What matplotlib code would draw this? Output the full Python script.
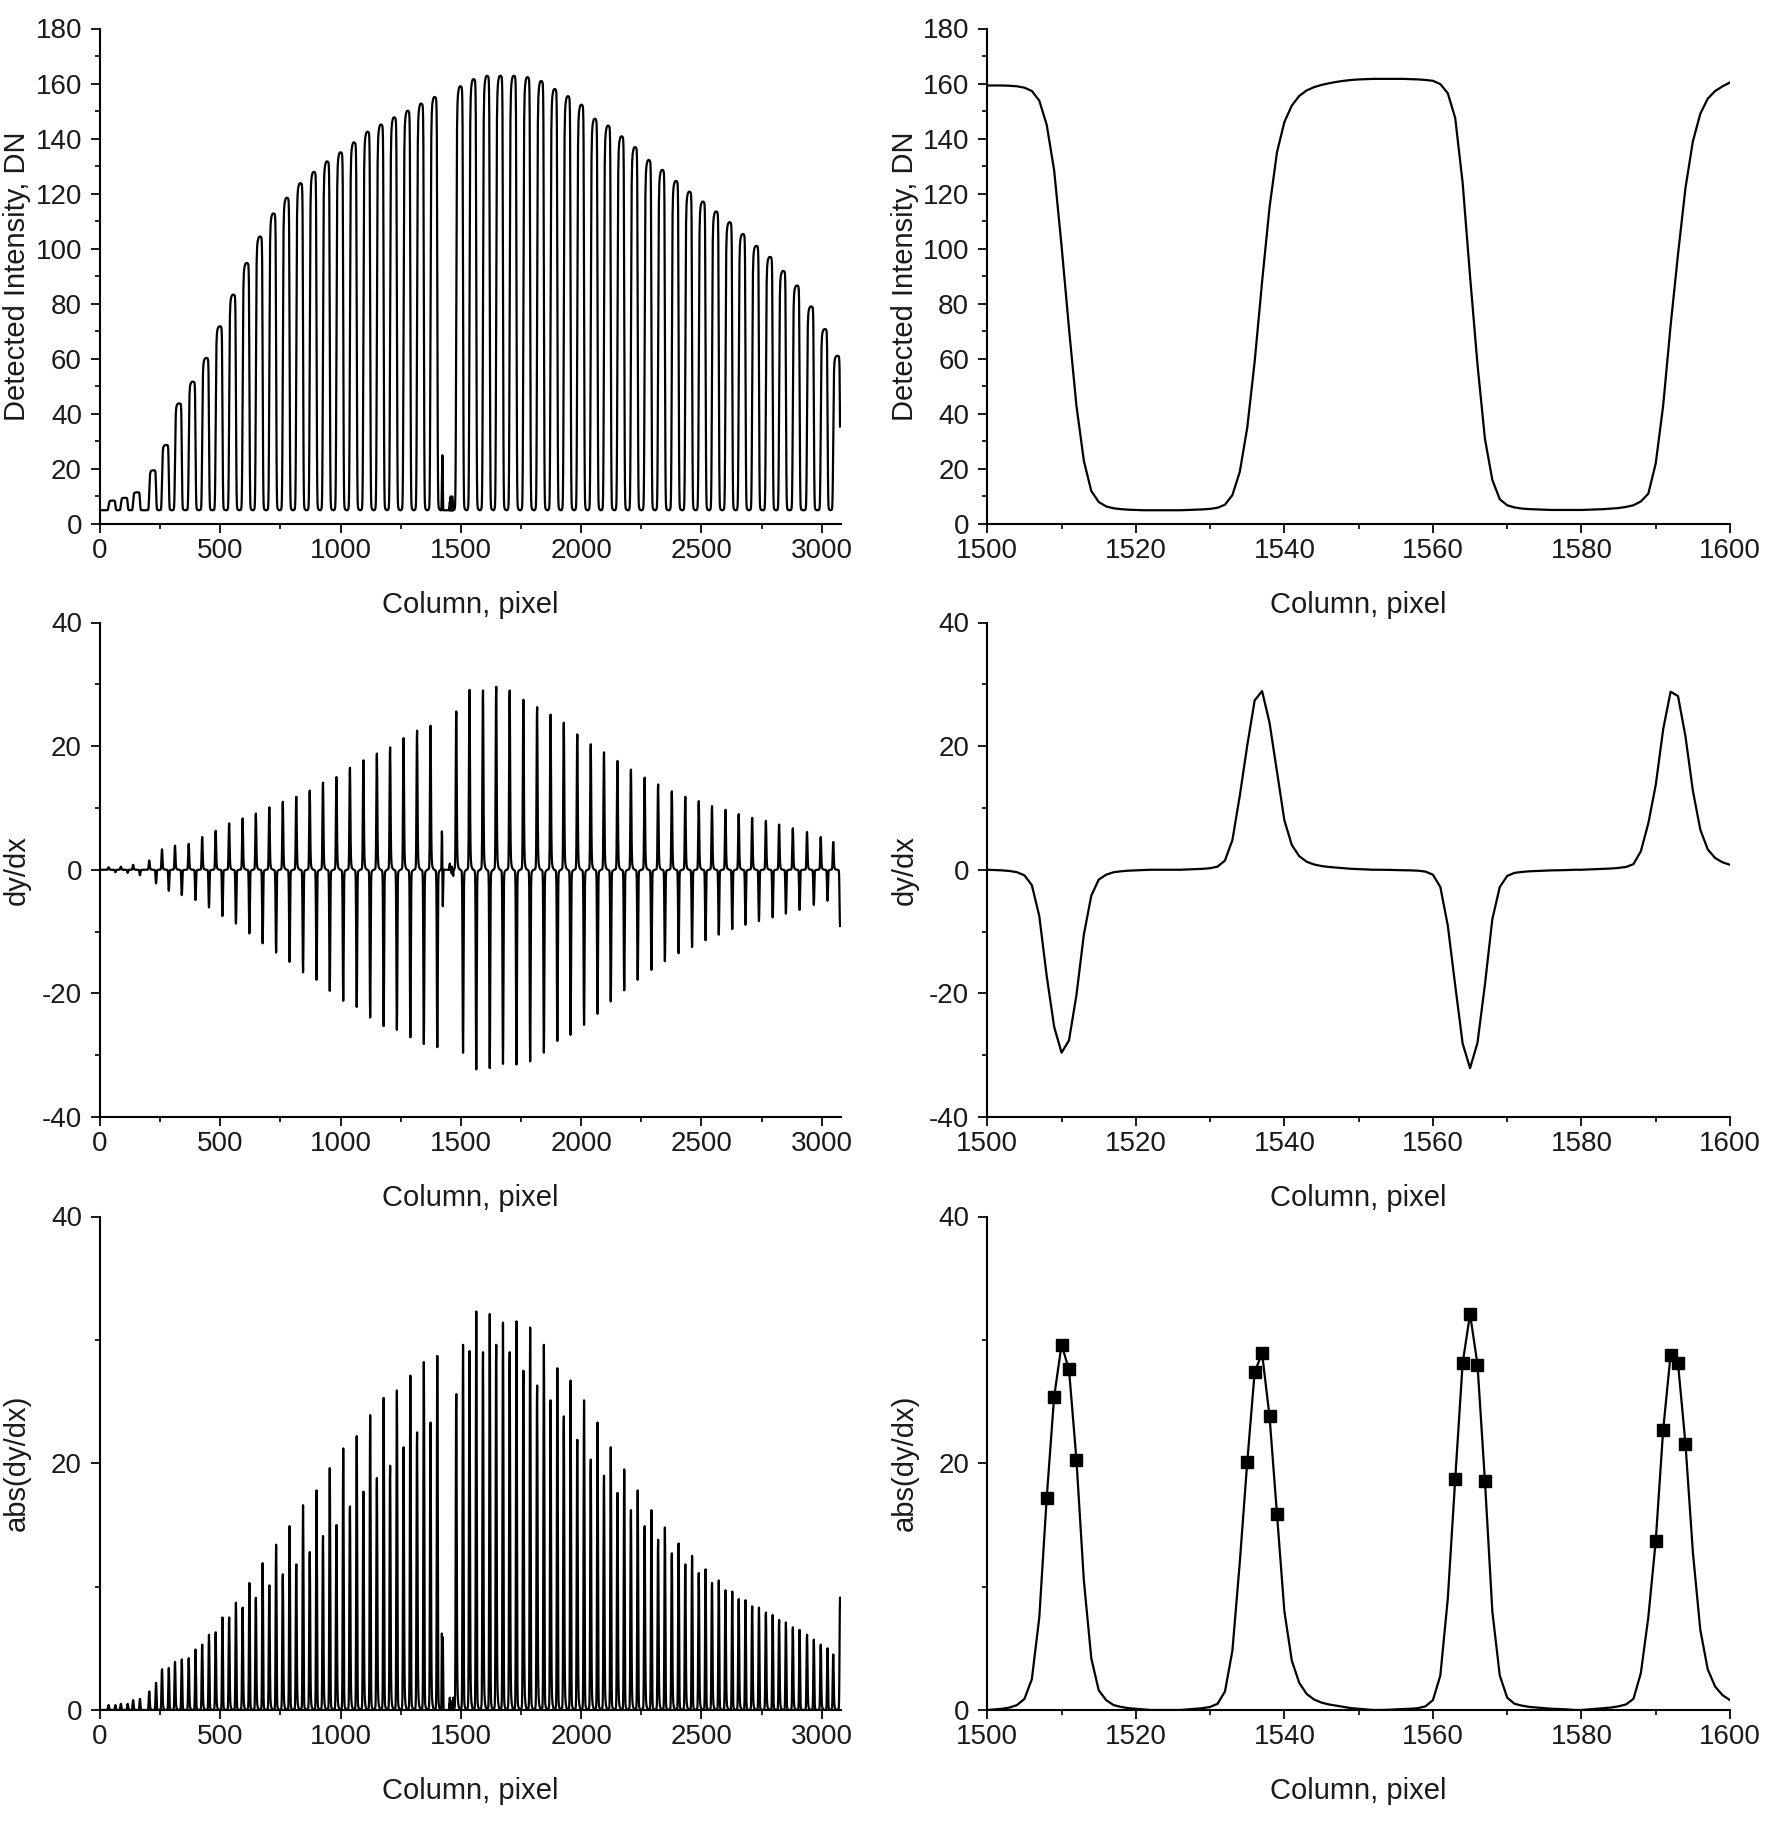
import numpy as np
import matplotlib.pyplot as plt
from matplotlib.ticker import MultipleLocator

plt.rcParams['font.family'] = ['Liberation Sans', 'DejaVu Sans']
plt.rcParams['axes.unicode_minus'] = False

# zoomed window, one value per detector column 1500..1600
zoom_col = np.arange(1500, 1601)
zoom_dn = [
    159.3, 159.3, 159.3, 159.2, 159.0, 158.5, 157.3, 153.8, 145.0, 128.5,
    101.0, 71.0, 43.0, 23.0, 12.0, 8.0, 6.4, 5.7, 5.4, 5.2,
    5.1, 5.0, 5.0, 5.0, 5.0, 5.0, 5.0, 5.1, 5.2, 5.3,
    5.5, 5.9, 7.0, 10.5, 19.0, 35.0, 59.0, 88.0, 115.0, 135.0,
    146.0, 152.0, 155.5, 157.5, 158.7, 159.5, 160.1, 160.6, 161.0, 161.3,
    161.5, 161.6, 161.7, 161.7, 161.7, 161.7, 161.7, 161.6, 161.5, 161.3,
    161.0, 159.8, 156.5, 147.5, 124.0, 90.0, 58.0, 31.0, 16.0, 9.0,
    6.8, 6.0, 5.6, 5.4, 5.3, 5.2, 5.1, 5.1, 5.1, 5.1,
    5.1, 5.2, 5.3, 5.4, 5.6, 5.8, 6.2, 6.8, 8.2, 11.0,
    22.0, 43.0, 72.0, 98.0, 122.0, 139.0, 149.0, 154.5, 157.3, 159.0,
    160.4,
]
zoom_slope = [
    0.0, -0.05, -0.1, -0.2, -0.4, -0.9, -2.5, -7.5, -17.2, -25.4,
    -29.6, -27.6, -20.3, -10.5, -4.2, -1.6, -0.8, -0.4, -0.25, -0.15,
    -0.1, -0.05, 0.0, 0.0, 0.0, 0.0, 0.0, 0.05, 0.1, 0.15,
    0.25, 0.5, 1.5, 4.8, 12.0, 20.1, 27.4, 28.9, 23.8, 15.9,
    8.0, 4.0, 2.2, 1.3, 0.85, 0.6, 0.45, 0.35, 0.25, 0.15,
    0.1, 0.05, 0.0, 0.0, -0.02, -0.05, -0.08, -0.1, -0.15, -0.3,
    -0.8, -2.8, -9.0, -18.7, -28.1, -32.1, -28.0, -18.6, -8.0, -2.8,
    -1.0, -0.5, -0.35, -0.25, -0.2, -0.15, -0.1, -0.08, -0.05, 0.0,
    0.0, 0.05, 0.1, 0.15, 0.2, 0.3, 0.45, 0.9, 3.0, 7.5,
    13.7, 22.7, 28.8, 28.1, 21.6, 12.8, 6.5, 3.3, 1.9, 1.2,
    0.8,
]
marker_col = [1508, 1509, 1510, 1511, 1512,
              1535, 1536, 1537, 1538, 1539,
              1563, 1564, 1565, 1566, 1567,
              1590, 1591, 1592, 1593, 1594]

# whole row: one entry per fringe (centre column, top value, edge slopes)
fringe_col = [50, 101, 152, 219, 272, 326, 383, 439, 495, 551, 607, 662, 718, 774,
              830, 886, 941, 997, 1053, 1109, 1165, 1220, 1276, 1332, 1388,
              1495, 1550, 1606, 1661, 1717, 1774, 1831, 1887, 1942, 1998, 2054,
              2109, 2165, 2221, 2278, 2334, 2391, 2447, 2503, 2558, 2614, 2669,
              2725, 2782, 2837, 2894, 2953, 3010, 3062]
fringe_dn = [8.5, 9.5, 11.5, 19.5, 28.7, 43.8, 51.7, 60.3, 71.8, 83.3, 94.8, 104.4,
             112.8, 118.5, 123.8, 127.9, 131.7, 135.0, 138.6, 142.5, 145.1, 147.7,
             150.1, 152.7, 155.1,
             159.0, 161.6, 162.8, 162.8, 162.8, 162.3, 160.9, 158.0, 155.4, 152.3,
             147.2, 144.7, 140.8, 136.9, 132.2, 128.6, 124.6, 120.7, 117.1, 113.5,
             109.6, 105.3, 101.0, 97.0, 91.9, 86.6, 79.0, 70.8, 61.1]
rise_slope = [0.4, 0.5, 0.8, 1.5, 3.3, 3.9, 4.2, 5.3, 6.3, 7.5, 8.3, 9.1, 10.1, 11.0,
              11.8, 12.8, 14.1, 15.0, 16.5, 17.7, 18.8, 19.8, 21.3, 22.5, 23.3,
              25.6, 29.1, 29.0, 29.6, 29.0, 27.5, 26.3, 25.1, 23.8, 21.9, 20.3,
              19.0, 17.6, 16.2, 14.9, 13.8, 12.7, 11.8, 11.1, 10.3, 9.7, 9.0,
              8.4, 7.9, 7.3, 6.7, 6.1, 5.3, 4.5]
fall_slope = [-0.4, -0.5, -0.9, -2.2, -3.4, -4.1, -4.9, -6.1, -7.5, -8.7, -10.3,
              -11.9, -13.4, -14.9, -16.6, -17.8, -19.6, -21.2, -22.2, -23.9, -25.3,
              -25.9, -27.1, -28.2, -28.7,
              -29.6, -32.3, -32.1, -31.4, -31.5, -31.0, -29.6, -27.7, -26.7, -25.1,
              -23.3, -21.3, -19.5, -17.8, -16.2, -14.8, -13.5, -12.5, -11.4, -10.5,
              -9.6, -8.9, -8.3, -7.7, -7.1, -6.5, -5.7, -5.0, -9.1]
trough_dn = 5.0
last_col = 3076

# narrow spike and bump inside the dark gap near column 1400-1480
glitch_col = [1419, 1420, 1421, 1422, 1423, 1424, 1425, 1426, 1427,
              1452, 1454, 1456, 1458, 1460, 1462, 1464, 1466, 1468]
glitch_dn = [0.0, 3.0, 9.0, 16.0, 20.0, 17.0, 9.0, 3.0, 0.0,
             1.0, 3.0, 4.5, 5.0, 4.0, 4.5, 5.0, 3.5, 1.5]
glitch_slope = [0.5, 3.0, 6.2, 5.5, 0.5, -4.0, -5.9, -4.0, -1.5,
                0.5, 1.0, 0.6, 0.0, -0.5, 0.5, 0.3, -0.8, -1.0]

zoom_dn = np.array(zoom_dn)
zoom_slope = np.array(zoom_slope)

# one fringe period out of the zoomed window is used as the shape of every fringe
win = (zoom_col >= 1523) & (zoom_col <= 1578)
offs = zoom_col[win] - 1551
shape_dn = (zoom_dn[win] - trough_dn) / (zoom_dn[win].max() - trough_dn)
shape_up = np.clip(zoom_slope[win], 0, None) / zoom_slope[win].max()
shape_dw = np.clip(zoom_slope[win], None, 0) / -zoom_slope[win].min()

col = np.arange(0, last_col + 1)
dn = np.full(col.size, trough_dn)
slope = np.zeros(col.size)
for c, h, r, f in zip(fringe_col, fringe_dn, rise_slope, fall_slope):
    idx = c + offs
    ok = (idx >= 0) & (idx <= last_col)
    dn[idx[ok]] += (h - trough_dn) * shape_dn[ok]
    slope[idx[ok]] += r * shape_up[ok] + abs(f) * shape_dw[ok]
dn[glitch_col] += glitch_dn
slope[glitch_col] += glitch_slope

W, H = 1782, 1822
fig = plt.figure(figsize=(W / 100, H / 100), dpi=100)

rows = [(28.5, 524), (622.5, 1117), (1216.5, 1710)]
cols = [(100, 841), (987.3, 1730)]


def make_ax(r, c):
    (t, b), (l, rr) = rows[r], cols[c]
    return fig.add_axes([l / W, 1 - b / H, (rr - l) / W, (b - t) / H])


def style(ax, xmaj, xmin, ymaj, ymin, ylabel, lx):
    for s in ['top', 'right']:
        ax.spines[s].set_visible(False)
    for s in ['left', 'bottom']:
        ax.spines[s].set_linewidth(1.5)
    ax.xaxis.set_major_locator(MultipleLocator(xmaj))
    ax.xaxis.set_minor_locator(MultipleLocator(xmin))
    ax.yaxis.set_major_locator(MultipleLocator(ymaj))
    ax.yaxis.set_minor_locator(MultipleLocator(ymin))
    ax.tick_params(which='major', length=6.5, width=1.4, labelsize=20, colors='#1a1a1a')
    ax.tick_params(which='minor', length=3.6, width=1.2)
    ax.tick_params(axis='x', which='major', pad=3.3)
    ax.tick_params(axis='y', which='major', pad=6.5)
    ax.set_xlabel('Column, pixel', fontsize=21, color='#1a1a1a')
    ax.set_ylabel(ylabel, fontsize=21, color='#1a1a1a')
    ax.xaxis.set_label_coords(0.5, -0.136)
    ax.yaxis.set_label_coords(lx, 0.5)


line = dict(color='black', lw=1.6)

ax = make_ax(0, 0)
ax.plot(col, dn, **line)
ax.set_xlim(0, 3080)
ax.set_ylim(0, 180)
style(ax, 500, 250, 20, 10, 'Detected Intensity, DN', -0.093)

ax = make_ax(0, 1)
ax.plot(zoom_col, zoom_dn, **line)
ax.set_xlim(1500, 1600)
ax.set_ylim(0, 180)
style(ax, 20, 10, 20, 10, 'Detected Intensity, DN', -0.092)

ax = make_ax(1, 0)
ax.plot(col, slope, **line)
ax.set_xlim(0, 3080)
ax.set_ylim(-40, 40)
style(ax, 500, 250, 20, 10, 'dy/dx', -0.093)

ax = make_ax(1, 1)
ax.plot(zoom_col, zoom_slope, **line)
ax.set_xlim(1500, 1600)
ax.set_ylim(-40, 40)
style(ax, 20, 10, 20, 10, 'dy/dx', -0.092)

ax = make_ax(2, 0)
ax.plot(col, np.abs(slope), **line)
ax.set_xlim(0, 3080)
ax.set_ylim(0, 40)
style(ax, 500, 250, 20, 10, 'abs(dy/dx)', -0.093)

ax = make_ax(2, 1)
ax.plot(zoom_col, np.abs(zoom_slope), **line)
mk = np.isin(zoom_col, marker_col)
ax.plot(zoom_col[mk], np.abs(zoom_slope)[mk], 's', color='black', ms=8, lw=0)
ax.set_xlim(1500, 1600)
ax.set_ylim(0, 40)
style(ax, 20, 10, 20, 10, 'abs(dy/dx)', -0.092)

fig.savefig('out.png', dpi=100)
